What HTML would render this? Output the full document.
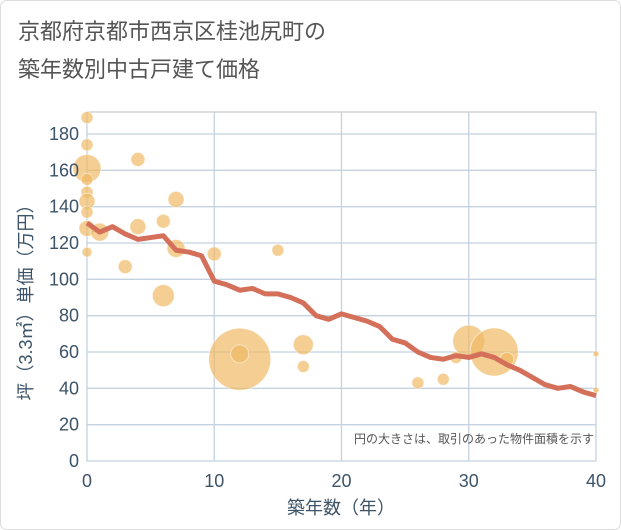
<!DOCTYPE html>
<html><head><meta charset="utf-8"><style>
body{margin:0;background:#fff}
svg{display:block;font-family:"Liberation Sans","Noto Sans CJK JP",sans-serif}
</style></head><body>
<svg width="621" height="530">
<rect x="0.5" y="0.5" width="620" height="529" rx="6" fill="#fff" stroke="#ddd"/>
<text x="18" y="39" font-size="22" fill="#555">京都府京都市西京区桂池尻町の</text>
<text x="18" y="77" font-size="22" fill="#555">築年数別中古戸建て価格</text>
<g id="grid"></g>
<g id="bubbles"></g>
<g id="line"></g>
<g id="axes"></g>
<text x="594" y="443" font-size="12" fill="#555" text-anchor="end">円の大きさは、取引のあった物件面積を示す</text>
<text x="341" y="514" font-size="18" fill="#3d5368" text-anchor="middle">築年数（年）</text>
<text transform="translate(32,298) rotate(-90)" font-size="18" fill="#3d5368" text-anchor="middle">坪（3.3㎡）単価（万円）</text>
</svg>
<script>
const xTicks=[0,10,20,30,40];
const yTicks=[0,20,40,60,80,100,120,140,160,180];
const lineAges=[0,1,2,3,4,5,6,7,8,9,10,11,12,13,14,15,16,17,18,19,20,21,22,23,24,25,26,27,28,29,30,31,32,33,34,35,36,37,38,39,40];
const lineValues=[131,126,129,125,122,123,124,116,115,113,99,97,94,95,92,92,90,87,80,78,81,79,77,74,67,65,60,57,56,58,57,59,57,53,50,46,42,40,41,38,36];
const bubbleAges=[0,0,0,0,0,0,0,0,0,1,3,4,4,6,6,7,7,10,15,12,12,17,17,26,28,29,30,32,33,40,40];
const bubbleValues=[189,174,161,155,148,143,137,128,115,126,107,166,129,132,91,144,117,114,116,56,59,64,52,43,45,57,66,60,56,59,39];
const bubbleSizes=[6,6,14,6,6,8,6,8,5,9,7,7,8,7,11,8,9,7,6,31,9,10,6,6,6,6,16,24,7,3,3];
const X0=87,X1=596,Y0=461,YT=134;
const sx=v=>X0+(v-0)*(X1-X0)/40;
const sy=v=>Y0-v*(Y0-YT)/180;
const NS="http://www.w3.org/2000/svg";
function mk(t,a,p){const e=document.createElementNS(NS,t);for(const k in a)e.setAttribute(k,a[k]);p.appendChild(e);return e;}
const grid=document.getElementById('grid'),axes=document.getElementById('axes');
mk('rect',{x:X0,y:112,width:X1-X0,height:Y0-112,fill:'none',stroke:'#bbb'},grid);
yTicks.forEach(t=>{const l=mk('line',{x1:X0,x2:X1,y1:sy(t),y2:sy(t),stroke:'#c4d2e0','stroke-width':1.3},grid);


const tx=mk('text',{x:X0-8,y:sy(t)+6,'font-size':18,fill:'#3d5368','text-anchor':'end'},axes);tx.textContent=t;

});
xTicks.forEach(t=>{const l=mk('line',{x1:sx(t),x2:sx(t),y1:112,y2:Y0,stroke:'#c4d2e0','stroke-width':1.3},grid);


const tx=mk('text',{x:sx(t),y:487,'font-size':18,fill:'#3d5368','text-anchor':'middle'},axes);tx.textContent=t;

});
const bg=document.getElementById('bubbles');
bubbleAges.forEach((a,i)=>{const c=mk('circle',{cx:sx(a),cy:sy(bubbleValues[i]),r:bubbleSizes[i],fill:'rgba(240,185,100,0.7)',stroke:'rgba(255,255,255,0.5)'},bg);

});
const p=mk('polyline',{points:lineAges.map((a,i)=>sx(a)+','+sy(lineValues[i])).join(' '),fill:'none',stroke:'#d4705a','stroke-width':5,'stroke-linejoin':'round'},document.getElementById('line'));


</script>
</body></html>
